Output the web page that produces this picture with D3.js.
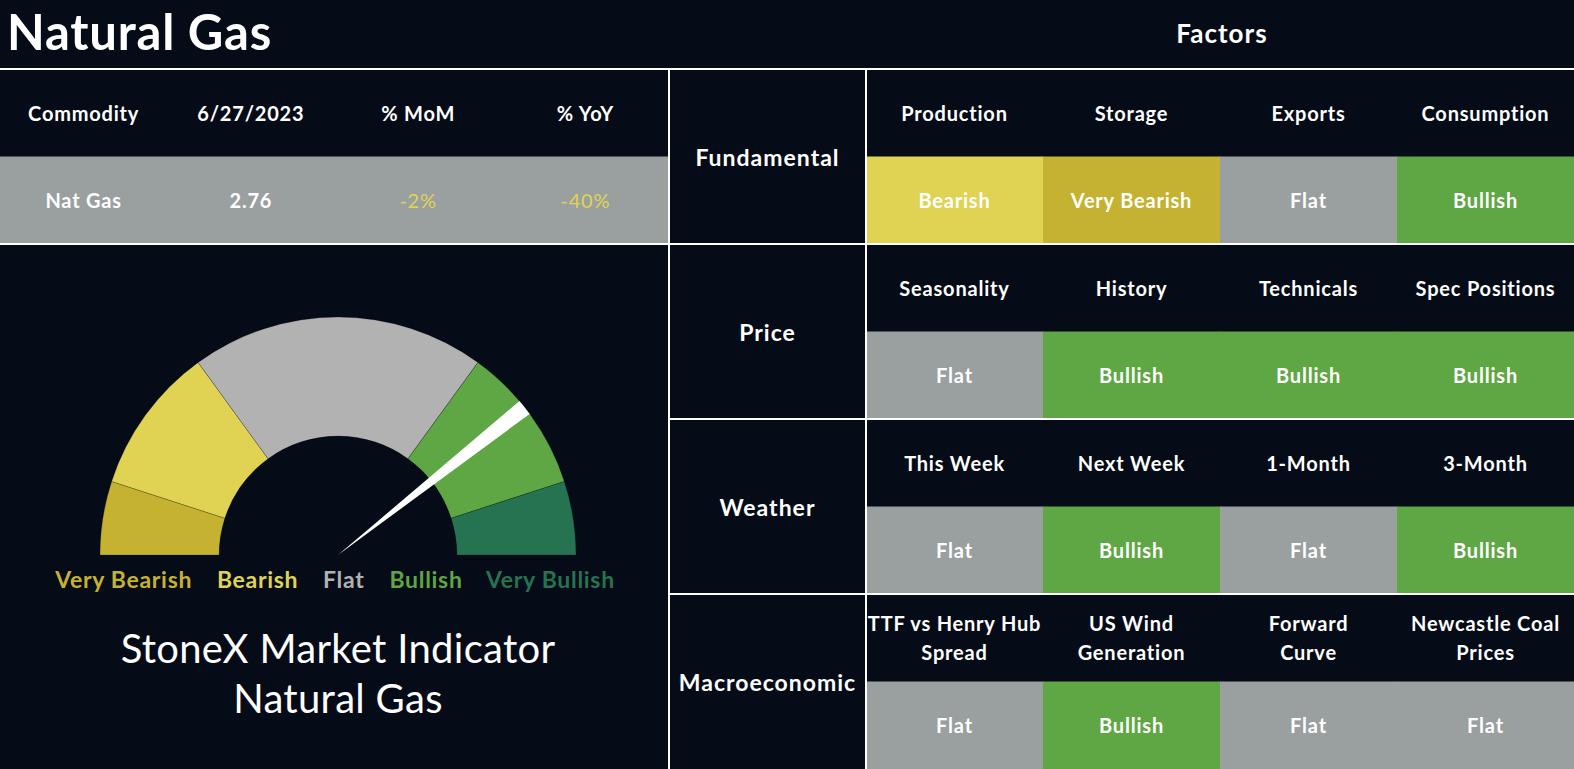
<!DOCTYPE html>
<html>
<head>
<meta charset="utf-8">
<script src="https://cdn.jsdelivr.net/npm/d3@7"></script>
<style>
  html, body { margin: 0; padding: 0; background: #050b17; }
  svg { display: block; }
  text { font-family: Lato, "Open Sans", sans-serif; }
</style>
</head>
<body>
<svg id="chart" width="1574" height="769"></svg>
<script>
// ---------- DATA ----------
const pageTitle = "Natural Gas";
const factorsTitle = "Factors";

const tableHeaders = ["Commodity", "6/27/2023", "% MoM", "% YoY"];
const tableRow = ["Nat Gas", "2.76", "-2%", "-40%"];
const tableRowTone = ["plain", "plain", "Bearish", "Bearish"];

const gaugeLabels = ["Very Bearish", "Bearish", "Flat", "Bullish", "Very Bullish"];
const gaugeShares = [10, 20, 40, 20, 10];
const needleValue = 78.7;   // position on the 0-100 gauge scale
const needleWidth = 2.2;    // width of the needle wedge on the same scale

const gaugeTitle = ["StoneX Market Indicator", "Natural Gas"];

const factorGroups = ["Fundamental", "Price", "Weather", "Macroeconomic"];
const factorNames = [
  [["Production"], ["Storage"], ["Exports"], ["Consumption"]],
  [["Seasonality"], ["History"], ["Technicals"], ["Spec Positions"]],
  [["This Week"], ["Next Week"], ["1-Month"], ["3-Month"]],
  [["TTF vs Henry Hub", "Spread"], ["US Wind", "Generation"], ["Forward", "Curve"], ["Newcastle Coal", "Prices"]]
];
const factorSignals = [
  ["Bearish", "Very Bearish", "Flat", "Bullish"],
  ["Flat", "Bullish", "Bullish", "Bullish"],
  ["Flat", "Bullish", "Flat", "Bullish"],
  ["Flat", "Bullish", "Flat", "Flat"]
];

// ---------- STYLE ----------
const BG = "#050b17";
const signalFill = {
  "Very Bearish": "#c5b230",
  "Bearish": "#e0d354",
  "Flat": "#99a09f",
  "Bullish": "#5fa644",
  "Very Bullish": "#267352"
};
const gaugeFill = {
  "Very Bearish": "#c5b230",
  "Bearish": "#e0d354",
  "Flat": "#b2b2b2",
  "Bullish": "#5fa644",
  "Very Bullish": "#267352"
};

const W = 1574, H = 769;
const topY = 69, leftW = 669, catX = 866;
const cellFont = 20, cellLS = 0.8;
const svg = d3.select("#chart");

svg.append("rect").attr("width", W).attr("height", H).attr("fill", BG);

// Title
svg.append("text").attr("x", 7).attr("y", 50)
  .attr("fill", "#fff").attr("font-size", 49).attr("font-weight", 700)
  .attr("letter-spacing", 0.8)
  .text(pageTitle);
svg.append("text").attr("x", 1222).attr("y", 33)
  .attr("fill", "#fff").attr("font-size", 26).attr("font-weight", 700)
  .attr("letter-spacing", 1)
  .attr("text-anchor", "middle").attr("dominant-baseline", "central")
  .text(factorsTitle);

// ---------- LEFT TABLE ----------
const tx = d3.scaleBand().domain(d3.range(tableHeaders.length)).range([0, leftW]);
const tableRowH = (244 - topY) / 2;
svg.append("rect").attr("x", 0).attr("y", topY + tableRowH)
  .attr("width", leftW).attr("height", tableRowH).attr("fill", signalFill["Flat"]);
svg.selectAll("text.th").data(tableHeaders).join("text").attr("class", "th")
  .attr("x", (d, i) => tx(i) + tx.bandwidth() / 2)
  .attr("y", topY + tableRowH / 2)
  .attr("text-anchor", "middle").attr("dominant-baseline", "central")
  .attr("fill", "#fff").attr("font-size", cellFont).attr("font-weight", 700)
  .attr("letter-spacing", cellLS)
  .text(d => d);
svg.selectAll("text.td").data(tableRow).join("text").attr("class", "td")
  .attr("x", (d, i) => tx(i) + tx.bandwidth() / 2)
  .attr("y", topY + tableRowH * 1.5)
  .attr("text-anchor", "middle").attr("dominant-baseline", "central")
  .attr("fill", (d, i) => tableRowTone[i] === "plain" ? "#fff" : signalFill[tableRowTone[i]])
  .attr("font-size", cellFont).attr("letter-spacing", cellLS)
  .attr("font-weight", (d, i) => tableRowTone[i] === "plain" ? 700 : 400)
  .text(d => d);

// ---------- GAUGE ----------
const cx = 338, cy = 555, rOuter = 238, rInner = 119;
const g = svg.append("g").attr("transform", `translate(${cx},${cy})`);
const pie = d3.pie().sort(null).startAngle(-Math.PI / 2).endAngle(Math.PI / 2);
const arc = d3.arc().innerRadius(rInner).outerRadius(rOuter);
g.selectAll("path.seg").data(pie(gaugeShares)).join("path").attr("class", "seg")
  .attr("d", arc)
  .attr("fill", (d, i) => gaugeFill[gaugeLabels[i]])
  .attr("stroke", "rgba(0,0,0,0.35)").attr("stroke-width", 0.6);

const ang = d3.scaleLinear().domain([0, 100]).range([-Math.PI / 2, Math.PI / 2]);
const needleArc = d3.arc().innerRadius(0).outerRadius(rOuter)
  .startAngle(ang(needleValue - needleWidth / 2))
  .endAngle(ang(needleValue + needleWidth / 2));
g.append("path").attr("d", needleArc()).attr("fill", "#fff");

// gauge legend
const legend = svg.append("text").attr("x", 335).attr("y", 579)
  .attr("text-anchor", "middle").attr("dominant-baseline", "central")
  .attr("font-size", 23).attr("font-weight", 700).attr("letter-spacing", 0.7);
legend.selectAll("tspan").data(gaugeLabels).join("tspan")
  .attr("dx", (d, i) => i === 0 ? 0 : 25)
  .attr("fill", d => gaugeFill[d])
  .text(d => d);

svg.selectAll("text.gt").data(gaugeTitle).join("text").attr("class", "gt")
  .attr("x", 338).attr("y", (d, i) => 648 + i * 50)
  .attr("text-anchor", "middle").attr("dominant-baseline", "central")
  .attr("fill", "#fff").attr("font-size", 40).attr("font-weight", 400)
  .attr("letter-spacing", 0.3)
  .text(d => d);

// ---------- FACTORS GRID ----------
const ry = d3.scaleBand().domain(d3.range(factorGroups.length)).range([topY, H]);
const fx = d3.scaleBand().domain(d3.range(4)).range([catX, W]);
const rowH = ry.bandwidth();

const rows = svg.selectAll("g.row").data(factorGroups).join("g").attr("class", "row")
  .attr("transform", (d, i) => `translate(0,${ry(i)})`);

rows.append("text")
  .attr("x", (leftW + catX) / 2).attr("y", rowH / 2)
  .attr("text-anchor", "middle").attr("dominant-baseline", "central")
  .attr("fill", "#fff").attr("font-size", 23).attr("font-weight", 700)
  .attr("letter-spacing", 1)
  .text(d => d);

rows.each(function (grp, ri) {
  const r = d3.select(this);
  const cells = factorSignals[ri].map((s, ci) => ({ s, ci, name: factorNames[ri][ci] }));
  r.selectAll("rect.cell").data(cells).join("rect").attr("class", "cell")
    .attr("x", d => fx(d.ci)).attr("y", rowH / 2)
    .attr("width", fx.bandwidth() + 0.5).attr("height", rowH / 2)
    .attr("fill", d => signalFill[d.s]);
  r.selectAll("text.val").data(cells).join("text").attr("class", "val")
    .attr("x", d => fx(d.ci) + fx.bandwidth() / 2).attr("y", rowH * 0.75)
    .attr("text-anchor", "middle").attr("dominant-baseline", "central")
    .attr("fill", "#fff").attr("font-size", cellFont).attr("font-weight", 700)
    .attr("letter-spacing", cellLS)
    .text(d => d.s);
  const hdr = r.selectAll("text.hdr").data(cells).join("text").attr("class", "hdr")
    .attr("x", d => fx(d.ci) + fx.bandwidth() / 2)
    .attr("text-anchor", "middle").attr("dominant-baseline", "central")
    .attr("fill", "#fff").attr("font-size", cellFont).attr("font-weight", 700)
    .attr("letter-spacing", cellLS);
  hdr.selectAll("tspan").data(d => d.name.map((t, k) => ({ t, k, n: d.name.length, x: fx(d.ci) + fx.bandwidth() / 2 })))
    .join("tspan")
    .attr("x", d => d.x)
    .attr("y", d => rowH / 4 + (d.k - (d.n - 1) / 2) * 29)
    .text(d => d.t);
});

// ---------- GRID LINES ----------
const lines = svg.append("g").attr("stroke", "#fff").attr("stroke-width", 2);
lines.append("line").attr("x1", 0).attr("x2", W).attr("y1", topY).attr("y2", topY);
lines.append("line").attr("x1", 0).attr("x2", W).attr("y1", ry(1)).attr("y2", ry(1));
[2, 3].forEach(i => lines.append("line").attr("x1", leftW).attr("x2", W).attr("y1", ry(i)).attr("y2", ry(i)));
[leftW, catX].forEach(x => lines.append("line").attr("x1", x).attr("x2", x).attr("y1", topY).attr("y2", H));
</script>
</body>
</html>
